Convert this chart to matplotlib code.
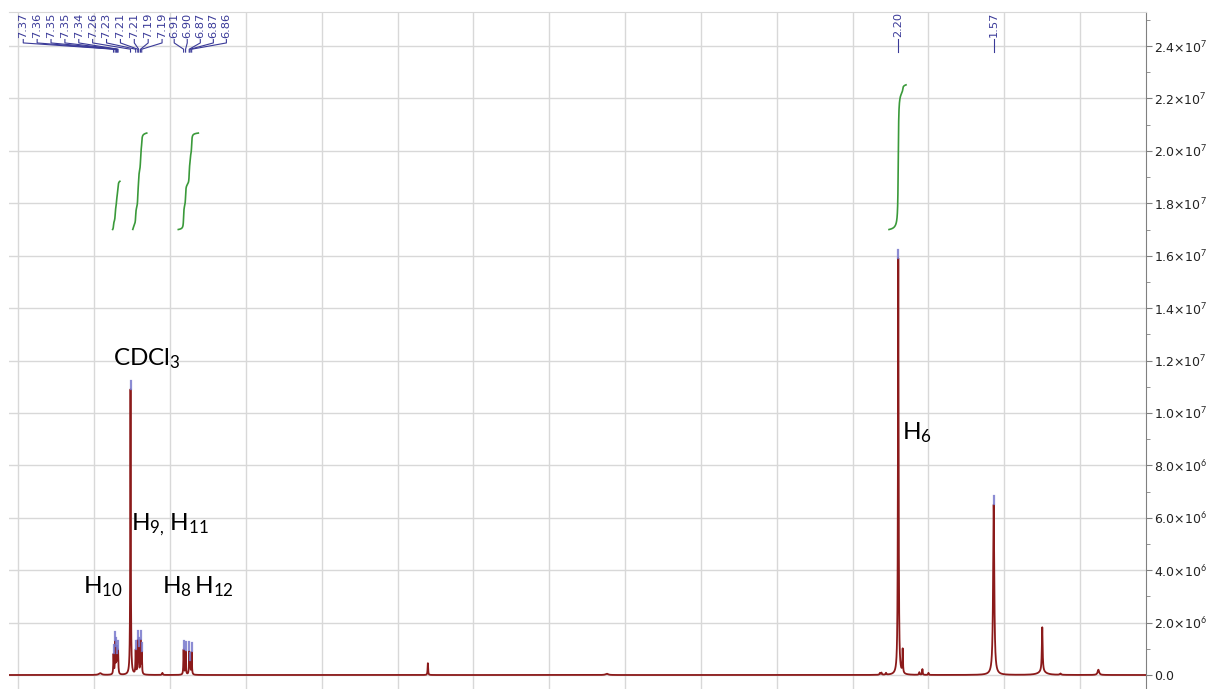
import numpy as np
import matplotlib
matplotlib.use('Agg')
import matplotlib.pyplot as plt
from matplotlib.ticker import MultipleLocator, FuncFormatter

plt.rcParams['font.family'] = ['DejaVu Sans']
plt.rcParams['mathtext.fontset'] = 'custom'
plt.rcParams['mathtext.rm'] = 'Lato'
plt.rcParams['mathtext.it'] = 'Lato:italic'
plt.rcParams['mathtext.bf'] = 'Lato:bold'

# picked (labelled) peaks: shift in ppm, height, half width (ppm)
picked_ppm = [7.372, 7.361, 7.353, 7.347, 7.342, 7.260,
              7.226, 7.212, 7.206, 7.194, 7.186,
              6.910, 6.897, 6.873, 6.867, 6.857,
              2.199, 1.570]
picked_height = [0.75e6, 1.2e6, 0.9e6, 0.55e6, 0.85e6, 10.9e6,
                 0.9e6, 1.2e6, 0.9e6, 1.25e6, 0.8e6,
                 0.95e6, 0.88e6, 0.85e6, 0.4e6, 0.85e6,
                 15.9e6, 6.5e6]
picked_hwhm = [0.002] * 16 + [0.0025, 0.0045]

# small peaks that were not picked
other_ppm = [7.46, 7.05, 5.30, 4.12, 2.32, 2.31, 2.28, 2.17, 2.06, 2.04,
             2.00, 1.25, 1.25, 1.13, 0.88]
other_height = [0.07e6, 0.08e6, 0.45e6, 0.05e6, 0.07e6, 0.08e6, 0.07e6, 0.9e6,
                0.1e6, 0.22e6, 0.08e6, 1.7e6, 0.12e6, 0.05e6, 0.2e6]
other_hwhm = [0.01, 0.003, 0.002, 0.01, 0.003, 0.003, 0.003, 0.002, 0.003,
              0.002, 0.002, 0.003, 0.03, 0.005, 0.006]

# integrals: region (ppm) and number of protons
int_start = [7.378, 7.245, 6.945, 2.26]
int_end = [7.330, 7.153, 6.813, 2.148]
int_nh = [1, 2, 2, 3]

# assignments
assign_text = [r'$\mathrm{CDCl}_3$', r'$\mathrm{H}_{10}$', r'$\mathrm{H}_{9,}\,\mathrm{H}_{11}$',
               r'$\mathrm{H}_8\,\mathrm{H}_{12}$', r'$\mathrm{H}_6$']
assign_ppm = [7.376, 7.572, 7.257, 7.052, 2.175]
assign_y = [11.8e6, 3.1e6, 5.55e6, 3.1e6, 9.0e6]

x_left, x_right = 8.061, 0.566
y_low, y_high = -0.534e6, 25.30e6

ppm = np.linspace(x_left, x_right, 40000)


def lorentz(x, x0, h, w):
    return h / (1 + ((x - x0) / w) ** 2)


spec = np.zeros_like(ppm)
for p, h, w in zip(picked_ppm + other_ppm, picked_height + other_height,
                   picked_hwhm + other_hwhm):
    spec += lorentz(ppm, p, h, w)

fig = plt.figure(figsize=(12.12, 6.89), dpi=100)
ax = fig.add_axes([9 / 1212, 0, (1146 - 9) / 1212, (689 - 12) / 689])

ax.plot(ppm, spec, color='#8b1a1a', lw=1.3, zorder=3)

# integral curves
per_h = 1.84e6
int_base = 17.0e6
for s, e, n in zip(int_start, int_end, int_nh):
    m = (ppm <= s) & (ppm >= e)
    cs = np.cumsum(spec[m])
    ax.plot(ppm[m], int_base + cs / cs[-1] * n * per_h, color='#3a9a3a', lw=1.2, zorder=3)

# peak markers + labels
lab_color = '#3a3a98'
arom = [p for p in picked_ppm if p > 5]
lab_x = list(7.967 - 0.0915 * np.arange(11)) + list(6.972 - 0.086 * np.arange(len(arom) - 11))
for i, p in enumerate(picked_ppm):
    top = np.interp(-p, -ppm, spec)
    ax.plot([p, p], [top + 0.03e6, top + 0.33e6], color='#7878cc', lw=1.6, alpha=0.85, zorder=4)
    if p > 5:
        lx = lab_x[i]
        ax.plot([lx, lx, p, p], [24.25e6, 24.12e6, 23.88e6, 23.77e6], color=lab_color, lw=0.8)
        ax.text(lx, 24.31e6, f'{p:.2f}', rotation=90, ha='center', va='bottom',
                fontsize=8.2, color=lab_color)
    else:
        ax.plot([p, p], [24.28e6, 23.77e6], color=lab_color, lw=0.8)
        ax.text(p, 24.34e6, f'{p:.2f}', rotation=90, ha='center', va='bottom',
                fontsize=8.2, color=lab_color)

for t, px, py in zip(assign_text, assign_ppm, assign_y):
    ax.text(px, py, t, fontsize=17.5, ha='left', va='baseline', color='black', zorder=5)

ax.set_xlim(x_left, x_right)
ax.set_ylim(y_low, y_high)

ax.set_xticks(np.arange(1.0, 8.01, 0.5))
ax.tick_params(axis='x', length=0, labelbottom=False)

ax.yaxis.tick_right()
ax.set_yticks(np.arange(0, 2.41e7, 2e6))
ax.yaxis.set_minor_locator(MultipleLocator(1e6))


def fmt(v, pos):
    if v == 0:
        return '0.0'
    e = int(np.floor(np.log10(v)))
    return f'{v / 10 ** e:.1f}\u00d710$^{{{e}}}$'


ax.yaxis.set_major_formatter(FuncFormatter(fmt))
ax.tick_params(axis='y', which='major', length=4, color='#808080', labelsize=9,
               labelcolor='#222222', pad=2)
ax.tick_params(axis='y', which='minor', length=3, color='#808080')

ax.grid(True, color='#d8d8d8', lw=1)
ax.set_axisbelow(True)
for side in ['left', 'bottom']:
    ax.spines[side].set_visible(False)
ax.spines['top'].set_color('#d8d8d8')
ax.spines['right'].set_color('#808080')

fig.savefig('out.png', dpi=100)
